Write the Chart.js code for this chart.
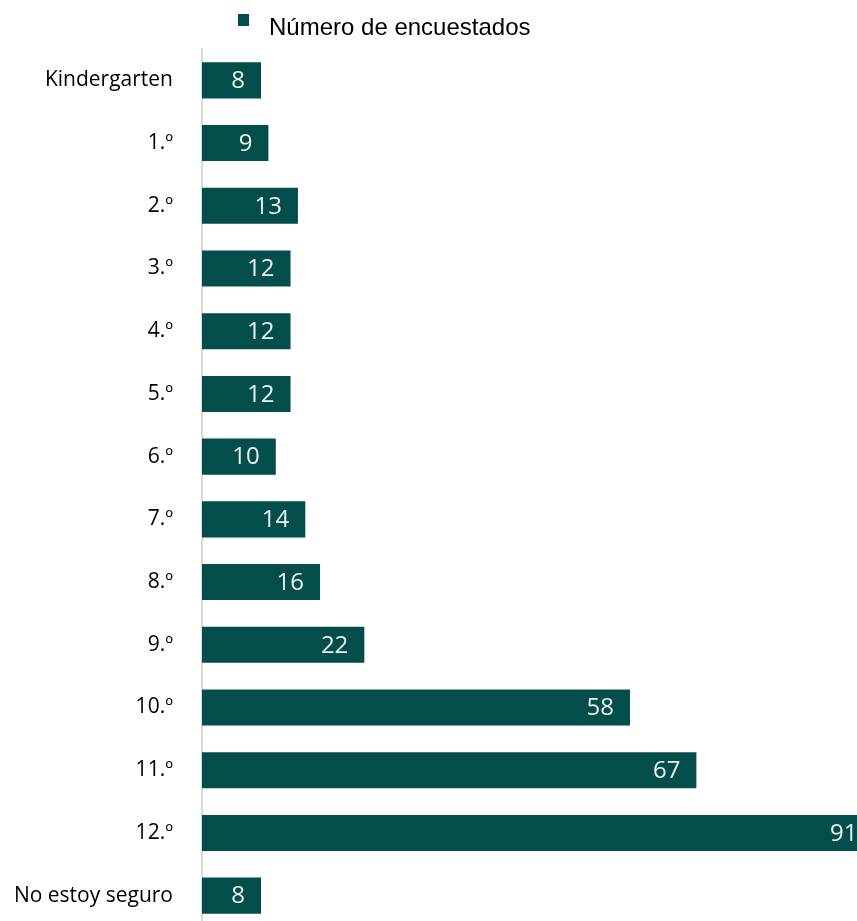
<!DOCTYPE html>
<html lang="es">
<head>
<meta charset="utf-8">
<title>Número de encuestados</title>
<script src="https://cdn.jsdelivr.net/npm/chart.js@4.4.1/dist/chart.umd.min.js"></script>
<style>
  html, body { margin: 0; padding: 0; background: #ffffff; overflow: hidden; }
  #grados { position: absolute; left: 0; top: 0; }
</style>
</head>
<body>
<canvas id="grados" width="903" height="927"></canvas>
<script>
// Datos
const categorias = [
  "Kindergarten", "1.º", "2.º", "3.º", "4.º", "5.º", "6.º",
  "7.º", "8.º", "9.º", "10.º", "11.º", "12.º", "No estoy seguro"
];
const encuestados = [8, 9, 13, 12, 12, 12, 10, 14, 16, 22, 58, 67, 91, 8];
const nombreSerie = "Número de encuestados";

const colorBarra = "#034e4b";

// Etiquetas de valor dentro del extremo de cada barra
const etiquetasValor = {
  id: "etiquetasValor",
  afterDatasetsDraw(chart) {
    const ctx = chart.ctx;
    const meta = chart.getDatasetMeta(0);
    ctx.save();
    ctx.font = '24px "Open Sans", sans-serif';
    ctx.fillStyle = "#e9f3f0";
    ctx.textAlign = "right";
    ctx.textBaseline = "middle";
    meta.data.forEach((bar, i) => {
      ctx.fillText(String(encuestados[i]), bar.x - 16, bar.y + 1);
    });
    ctx.restore();
  }
};

// Leyenda propia, alineada como en el original
const leyenda = {
  id: "leyenda",
  afterDraw(chart) {
    const ctx = chart.ctx;
    const ds = chart.data.datasets[0];
    ctx.save();
    ctx.fillStyle = ds.backgroundColor;
    ctx.fillRect(238, 14, 11, 12);
    ctx.fillStyle = "#000000";
    ctx.font = '24px "Liberation Sans", Arial, sans-serif';
    ctx.textAlign = "left";
    ctx.textBaseline = "alphabetic";
    ctx.fillText(ds.label, 269, 35);
    ctx.restore();
  }
};

new Chart(document.getElementById("grados").getContext("2d"), {
  type: "bar",
  data: {
    labels: categorias,
    datasets: [{
      label: nombreSerie,
      data: encuestados,
      backgroundColor: colorBarra,
      borderWidth: 0,
      categoryPercentage: 1,
      barPercentage: 0.575
    }]
  },
  options: {
    indexAxis: "y",
    responsive: false,
    animation: false,
    layout: { padding: { top: 49, left: 0, right: 0, bottom: 0 } },
    plugins: {
      legend: { display: false },
      tooltip: { enabled: false }
    },
    scales: {
      x: {
        display: false,
        min: 0,
        max: 95
      },
      y: {
        afterFit(scale) {
          // ancho fijo del eje y sin margen extra arriba/abajo
          scale.width = 202;
          scale.paddingTop = 0;
          scale.paddingBottom = 0;
        },
        grid: { display: false, drawTicks: false },
        border: { display: true, color: "#d9d9d9", width: 2 },
        ticks: {
          color: "#000000",
          padding: 29,
          font: { family: '"Open Sans", sans-serif', size: 21 }
        }
      }
    }
  },
  plugins: [etiquetasValor, leyenda]
});
</script>
</body>
</html>
